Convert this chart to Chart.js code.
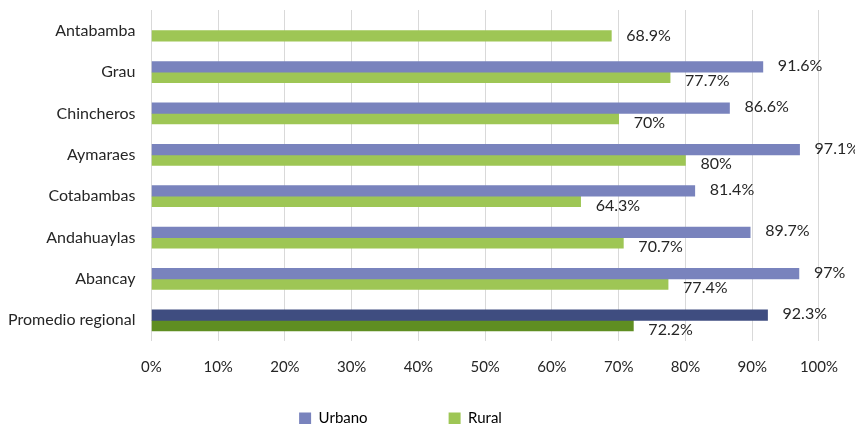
<!DOCTYPE html>
<html>
<head>
<meta charset="utf-8">
<script src="https://cdn.jsdelivr.net/npm/chart.js@4"></script>
<style>
    html, body { margin: 0; padding: 0; background: #fff; }
    #wrap { width: 855px; height: 426px; }
</style>
</head>
<body>
<div id="wrap"><canvas id="barChart"></canvas></div>
<script>
const categories = ['Antabamba', 'Grau', 'Chincheros', 'Aymaraes', 'Cotabambas', 'Andahuaylas', 'Abancay', 'Promedio regional'];
const urbano = [null, 91.6, 86.6, 97.1, 81.4, 89.7, 97, 92.3];
const rural = [68.9, 77.7, 70, 80, 64.3, 70.7, 77.4, 72.2];
const xTicks = [0, 10, 20, 30, 40, 50, 60, 70, 80, 90, 100];

const urbanoColors = categories.map((c, i) => i == categories.length - 1 ? '#3f4d80' : '#7983bd');
const ruralColors = categories.map((c, i) => i == categories.length - 1 ? '#5f8e22' : '#9ec655');

// labels next to the bar ends; rural ones drop a bit when there is an urbano label above
const barLabels = {
    id: 'barLabels',
    afterDatasetsDraw(chart) {
        const ctx = chart.ctx;
        ctx.save();
        ctx.font = '16px Lato';
        ctx.fillStyle = '#262626';
        ctx.textBaseline = 'middle';
        chart.data.datasets.forEach((ds, di) => {
            const meta = chart.getDatasetMeta(di);
            meta.data.forEach((bar, i) => {
                const v = ds.data[i];
                if (v == null) { return; }
                let dy = -1;
                if (di == 1) { dy = urbano[i] == null ? 0 : 4; }
                ctx.fillText(v + '%', bar.x + 15, bar.y + dy);
            });
        });
        ctx.restore();
    }
};

// legend sits a bit left of center and low, like the original
const legendShift = {
    id: 'legendShift',
    afterLayout(chart) {
        chart.legend.left -= 31;
        chart.legend.top = 417 - 81 - 6;
    }
};

Chart.defaults.font.family = 'Lato';
Chart.defaults.font.size = 15;
Chart.defaults.color = '#262626';

const ctx = document.getElementById('barChart').getContext('2d');
const myChart = new Chart(ctx, {
    type: 'bar',
    data: {
        labels: categories,
        datasets: [
            { label: 'Urbano', data: urbano, backgroundColor: urbanoColors, barThickness: 10.5 },
            { label: 'Rural', data: rural, backgroundColor: ruralColors, barThickness: 10.5 }
        ]
    },
    options: {
        indexAxis: 'y',
        responsive: true, maintainAspectRatio: false,
        animation: false,
        layout: { padding: { top: 10, right: 15, left: -8, bottom: 2 } },
        scales: {
            x: {
                min: 0, max: 100,
                afterBuildTicks: (axis) => { axis.ticks = xTicks.map(v => ({ value: v })); },
                ticks: { callback: (v) => v + '%', padding: 17, maxRotation: 0 },
                grid: { color: '#d9d9d9', drawTicks: false },
                border: { display: false }
            },
            y: {
                ticks: { padding: 16, font: { size: 16 } },
                grid: { display: false, drawTicks: false },
                border: { display: false },
                afterFit: (axis) => { axis.paddingTop = 0; axis.paddingBottom = 0; }
            }
        },
        plugins: {
            legend: {
                position: 'bottom',
                maxHeight: 31,
                labels: {
                    color: '#262626',
                    boxWidth: 12, boxHeight: 12,
                    padding: 81,
                    generateLabels: (chart) => chart.data.datasets.map((ds, i) => ({
                        text: ds.label,
                        fillStyle: i == 0 ? '#7983bd' : '#9ec655',
                        strokeStyle: 'transparent',
                        lineWidth: 0,
                        datasetIndex: i
                    }))
                }
            },
            tooltip: { enabled: false }
        }
    },
    plugins: [barLabels, legendShift]
});
</script>
</body>
</html>
